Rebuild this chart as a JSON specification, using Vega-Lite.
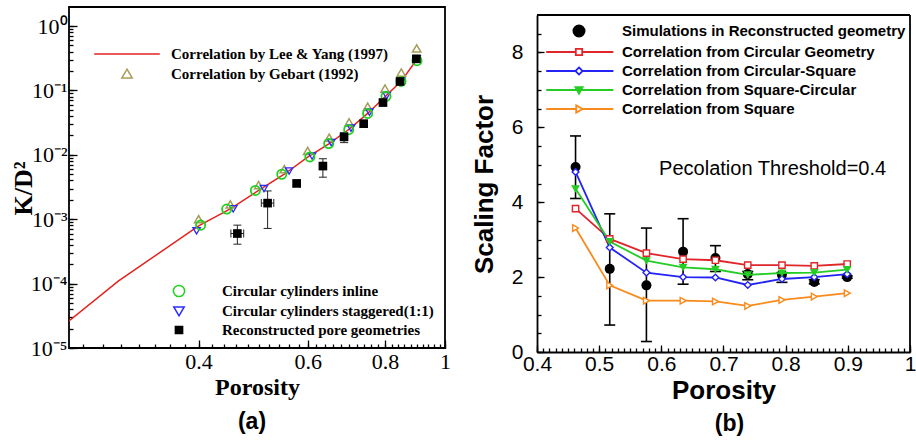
{
  "$schema": "https://vega.github.io/schema/vega-lite/v6.json",
  "background": "white",
  "padding": {"left": 9, "top": 6, "right": 0, "bottom": 0},
  "spacing": 92,
  "bounds": "flush",
  "config": {
    "font": "Liberation Sans",
    "view": {"stroke": "black", "strokeWidth": 1.8},
    "axis": {"grid": false, "domain": false, "tickColor": "black", "labelColor": "black", "titleColor": "black", "labelFlush": false, "labelOverlap": false, "labelBound": false, "tickWidth": 1.3}
  },
  "datasets": {
    "lee": [
      {"p": 0.247, "k": 2.63e-5}, {"p": 0.297, "k": 1.1e-4}, {"p": 0.4, "k": 7.9e-4},
      {"p": 0.45, "k": 1.45e-3}, {"p": 0.5, "k": 2.8e-3}, {"p": 0.55, "k": 5.0e-3},
      {"p": 0.6, "k": 9.2e-3}, {"p": 0.65, "k": 1.5e-2}, {"p": 0.7, "k": 2.5e-2},
      {"p": 0.75, "k": 4.4e-2}, {"p": 0.8, "k": 0.08}, {"p": 0.85, "k": 0.14}, {"p": 0.9, "k": 0.3}
    ],
    "gebart": [
      {"p": 0.4, "k": 1.0e-3}, {"p": 0.45, "k": 1.7e-3}, {"p": 0.5, "k": 3.4e-3},
      {"p": 0.55, "k": 6.0e-3}, {"p": 0.6, "k": 1.15e-2}, {"p": 0.65, "k": 1.85e-2},
      {"p": 0.7, "k": 3.2e-2}, {"p": 0.75, "k": 5.6e-2}, {"p": 0.8, "k": 0.107},
      {"p": 0.85, "k": 0.19}, {"p": 0.9, "k": 0.45}
    ],
    "cyl": [
      {"geo": "Circular cylinders staggered(1:1)", "p": 0.397, "k": 6.6e-4},
      {"geo": "Circular cylinders staggered(1:1)", "p": 0.455, "k": 1.45e-3},
      {"geo": "Circular cylinders staggered(1:1)", "p": 0.51, "k": 3.0e-3},
      {"geo": "Circular cylinders staggered(1:1)", "p": 0.56, "k": 5.6e-3},
      {"geo": "Circular cylinders staggered(1:1)", "p": 0.61, "k": 9.6e-3},
      {"geo": "Circular cylinders staggered(1:1)", "p": 0.655, "k": 1.55e-2},
      {"geo": "Circular cylinders staggered(1:1)", "p": 0.705, "k": 2.6e-2},
      {"geo": "Circular cylinders staggered(1:1)", "p": 0.755, "k": 4.6e-2},
      {"geo": "Circular cylinders staggered(1:1)", "p": 0.805, "k": 0.083},
      {"geo": "Circular cylinders staggered(1:1)", "p": 0.85, "k": 0.14},
      {"geo": "Circular cylinders staggered(1:1)", "p": 0.9, "k": 0.31},
      {"geo": "Circular cylinders inline", "p": 0.403, "k": 8.1e-4},
      {"geo": "Circular cylinders inline", "p": 0.444, "k": 1.44e-3},
      {"geo": "Circular cylinders inline", "p": 0.494, "k": 2.8e-3},
      {"geo": "Circular cylinders inline", "p": 0.545, "k": 5.0e-3},
      {"geo": "Circular cylinders inline", "p": 0.605, "k": 9.3e-3},
      {"geo": "Circular cylinders inline", "p": 0.649, "k": 1.5e-2},
      {"geo": "Circular cylinders inline", "p": 0.699, "k": 2.46e-2},
      {"geo": "Circular cylinders inline", "p": 0.75, "k": 4.4e-2},
      {"geo": "Circular cylinders inline", "p": 0.803, "k": 0.081},
      {"geo": "Circular cylinders inline", "p": 0.849, "k": 0.138},
      {"geo": "Circular cylinders inline", "p": 0.901, "k": 0.29},
      {"geo": "Reconstructed pore geometries", "p": 0.462, "k": 6.0e-4, "klo": 4.1e-4, "khi": 8.1e-4, "plo": 0.451, "phi": 0.473},
      {"geo": "Reconstructed pore geometries", "p": 0.517, "k": 1.78e-3, "klo": 7.2e-4, "khi": 2.75e-3, "plo": 0.505, "phi": 0.529},
      {"geo": "Reconstructed pore geometries", "p": 0.576, "k": 3.6e-3, "klo": 3.3e-3, "khi": 3.95e-3, "plo": 0.569, "phi": 0.583},
      {"geo": "Reconstructed pore geometries", "p": 0.635, "k": 6.7e-3, "klo": 4.5e-3, "khi": 8.7e-3, "plo": 0.63, "phi": 0.64},
      {"geo": "Reconstructed pore geometries", "p": 0.687, "k": 1.9e-2, "klo": 1.55e-2, "khi": 2.2e-2, "plo": 0.681, "phi": 0.693},
      {"geo": "Reconstructed pore geometries", "p": 0.739, "k": 3.05e-2, "klo": 2.7e-2, "khi": 3.4e-2, "plo": 0.733, "phi": 0.745},
      {"geo": "Reconstructed pore geometries", "p": 0.794, "k": 0.065, "klo": 0.058, "khi": 0.072, "plo": 0.789, "phi": 0.799},
      {"geo": "Reconstructed pore geometries", "p": 0.846, "k": 0.138, "klo": 0.128, "khi": 0.15, "plo": 0.841, "phi": 0.851},
      {"geo": "Reconstructed pore geometries", "p": 0.899, "k": 0.31, "klo": 0.29, "khi": 0.33, "plo": 0.894, "phi": 0.904}
    ],
    "scaling": [
      {"s": "Simulations in Reconstructed geometry", "p": 0.462, "v": 4.94, "lo": 4.1, "hi": 5.77},
      {"s": "Simulations in Reconstructed geometry", "p": 0.517, "v": 2.22, "lo": 0.72, "hi": 3.69},
      {"s": "Simulations in Reconstructed geometry", "p": 0.576, "v": 1.78, "lo": 0.28, "hi": 3.31},
      {"s": "Simulations in Reconstructed geometry", "p": 0.635, "v": 2.68, "lo": 1.81, "hi": 3.56},
      {"s": "Simulations in Reconstructed geometry", "p": 0.687, "v": 2.51, "lo": 2.15, "hi": 2.84},
      {"s": "Simulations in Reconstructed geometry", "p": 0.739, "v": 2.08, "lo": 1.93, "hi": 2.15},
      {"s": "Simulations in Reconstructed geometry", "p": 0.794, "v": 2.06, "lo": 1.86, "hi": 2.12},
      {"s": "Simulations in Reconstructed geometry", "p": 0.846, "v": 1.87, "lo": 1.82, "hi": 1.93},
      {"s": "Simulations in Reconstructed geometry", "p": 0.899, "v": 2.0, "lo": 1.97, "hi": 2.03},
      {"s": "Correlation from Circular Geometry", "p": 0.462, "v": 3.83},
      {"s": "Correlation from Circular Geometry", "p": 0.517, "v": 3.02},
      {"s": "Correlation from Circular Geometry", "p": 0.576, "v": 2.64},
      {"s": "Correlation from Circular Geometry", "p": 0.635, "v": 2.48},
      {"s": "Correlation from Circular Geometry", "p": 0.687, "v": 2.45},
      {"s": "Correlation from Circular Geometry", "p": 0.739, "v": 2.32},
      {"s": "Correlation from Circular Geometry", "p": 0.794, "v": 2.32},
      {"s": "Correlation from Circular Geometry", "p": 0.846, "v": 2.3},
      {"s": "Correlation from Circular Geometry", "p": 0.899, "v": 2.35},
      {"s": "Correlation from Circular-Square", "p": 0.462, "v": 4.81},
      {"s": "Correlation from Circular-Square", "p": 0.517, "v": 2.79},
      {"s": "Correlation from Circular-Square", "p": 0.576, "v": 2.12},
      {"s": "Correlation from Circular-Square", "p": 0.635, "v": 2.0},
      {"s": "Correlation from Circular-Square", "p": 0.687, "v": 1.99},
      {"s": "Correlation from Circular-Square", "p": 0.739, "v": 1.79},
      {"s": "Correlation from Circular-Square", "p": 0.794, "v": 1.95},
      {"s": "Correlation from Circular-Square", "p": 0.846, "v": 2.0},
      {"s": "Correlation from Circular-Square", "p": 0.899, "v": 2.08},
      {"s": "Correlation from Square-Circular", "p": 0.462, "v": 4.36},
      {"s": "Correlation from Square-Circular", "p": 0.517, "v": 2.95},
      {"s": "Correlation from Square-Circular", "p": 0.576, "v": 2.44},
      {"s": "Correlation from Square-Circular", "p": 0.635, "v": 2.26},
      {"s": "Correlation from Square-Circular", "p": 0.687, "v": 2.21},
      {"s": "Correlation from Square-Circular", "p": 0.739, "v": 2.06},
      {"s": "Correlation from Square-Circular", "p": 0.794, "v": 2.11},
      {"s": "Correlation from Square-Circular", "p": 0.846, "v": 2.12},
      {"s": "Correlation from Square-Circular", "p": 0.899, "v": 2.2},
      {"s": "Correlation from Square", "p": 0.462, "v": 3.31},
      {"s": "Correlation from Square", "p": 0.517, "v": 1.78},
      {"s": "Correlation from Square", "p": 0.576, "v": 1.37},
      {"s": "Correlation from Square", "p": 0.635, "v": 1.37},
      {"s": "Correlation from Square", "p": 0.687, "v": 1.35},
      {"s": "Correlation from Square", "p": 0.739, "v": 1.23},
      {"s": "Correlation from Square", "p": 0.794, "v": 1.39},
      {"s": "Correlation from Square", "p": 0.846, "v": 1.48},
      {"s": "Correlation from Square", "p": 0.899, "v": 1.57}
    ]
  },
  "hconcat": [
    {
      "width": 376,
      "height": 341,
      "title": {"text": "(a)", "orient": "bottom", "anchor": "middle", "frame": "group", "font": "Liberation Sans", "fontSize": 23, "fontWeight": "bold", "color": "black", "offset": 12, "dx": -5},
      "resolve": {
        "scale": {"shape": "independent", "stroke": "independent", "fill": "independent"},
        "axis": {"x": "independent", "y": "independent"}
      },
      "layer": [
        {
          "data": {"name": "lee"},
          "mark": {"type": "line", "strokeWidth": 1.5, "color": "#e3231e", "clip": true},
          "encoding": {
            "x": {
              "field": "p", "type": "quantitative",
              "scale": {"type": "log", "domain": [0.247, 1], "nice": false},
              "axis": {
                "orient": "bottom",
                "title": "Porosity", "titleFont": "Liberation Serif", "titleFontSize": 24, "titleFontWeight": "bold",
                "titleY": 39, "titleBaseline": "middle",
                "values": [0.26, 0.28, 0.3, 0.32, 0.34, 0.36, 0.38, 0.4, 0.42, 0.44, 0.46, 0.48, 0.5, 0.52, 0.54, 0.56, 0.58, 0.6, 0.62, 0.64, 0.66, 0.68, 0.7, 0.72, 0.74, 0.76, 0.78, 0.8, 0.82, 0.84, 0.86, 0.88, 0.9, 0.92, 0.94, 0.96, 0.98, 1],
                "labelExpr": "datum.value == 1 ? '1' : (datum.value == 0.4 || datum.value == 0.6 || datum.value == 0.8) ? format(datum.value, '.1f') : ''",
                "labelFont": "Liberation Serif", "labelFontSize": 22, "labelPadding": 7, "labelOverlap": false,
                "tickSize": -4
              }
            },
            "y": {
              "field": "k", "type": "quantitative",
              "scale": {"type": "log", "domain": [0.00001, 1.98], "nice": false},
              "axis": {
                "orient": "left",
                "title": "K/D²", "titleFont": "Liberation Serif", "titleFontSize": 26, "titleFontWeight": "bold",
                "titleX": -46, "titleY": 181, "titleBaseline": "middle", "titleAlign": "center",
                "values": [0.00001, 0.00002, 0.00003, 0.00004, 0.00005, 0.00006, 0.00007, 0.00008, 0.00009, 0.0001, 0.0002, 0.0003, 0.0004, 0.0005, 0.0006, 0.0007, 0.0008, 0.0009, 0.001, 0.002, 0.003, 0.004, 0.005, 0.006, 0.007, 0.008, 0.009, 0.01, 0.02, 0.03, 0.04, 0.05, 0.06, 0.07, 0.08, 0.09, 0.1, 0.2, 0.3, 0.4, 0.5, 0.6, 0.7, 0.8, 0.9, 1],
                "labelExpr": "datum.value == 1 ? '10⁰' : datum.value == 0.1 ? '10⁻¹' : datum.value == 0.01 ? '10⁻²' : datum.value == 0.001 ? '10⁻³' : datum.value == 0.0001 ? '10⁻⁴' : datum.value == 0.00001 ? '10⁻⁵' : ''",
                "labelFont": "Liberation Serif", "labelFontSize": 22, "labelPadding": 6, "labelOverlap": false,
                "tickSize": -4
              }
            }
          }
        },
        {
          "data": {"name": "gebart"},
          "mark": {"type": "point", "shape": "triangle-up", "filled": false, "color": "#a69d58", "size": 70, "strokeWidth": 1.5, "opacity": 1},
          "encoding": {
            "x": {"field": "p", "type": "quantitative", "axis": {"orient": "bottom", "title": null, "labels": false, "values": [0.4, 0.6, 0.8, 1], "tickSize": -8}},
            "y": {"field": "k", "type": "quantitative", "axis": {"orient": "left", "title": null, "labels": false, "values": [0.00001, 0.0001, 0.001, 0.01, 0.1, 1], "tickSize": -8}}
          }
        },
        {
          "data": {"name": "cyl"},
          "transform": [{"filter": "datum.geo == 'Reconstructed pore geometries'"}],
          "mark": {"type": "rule", "color": "#222222", "strokeWidth": 1},
          "encoding": {
            "x": {"field": "p", "type": "quantitative", "axis": null},
            "y": {"field": "klo", "type": "quantitative", "axis": null},
            "y2": {"field": "khi"}
          }
        },
        {
          "data": {"name": "cyl"},
          "transform": [{"filter": "datum.geo == 'Reconstructed pore geometries'"}],
          "mark": {"type": "tick", "orient": "horizontal", "size": 8, "thickness": 1, "color": "#222222", "opacity": 1},
          "encoding": {
            "x": {"field": "p", "type": "quantitative", "axis": null},
            "y": {"field": "klo", "type": "quantitative", "axis": null}
          }
        },
        {
          "data": {"name": "cyl"},
          "transform": [{"filter": "datum.geo == 'Reconstructed pore geometries'"}],
          "mark": {"type": "tick", "orient": "horizontal", "size": 8, "thickness": 1, "color": "#222222", "opacity": 1},
          "encoding": {
            "x": {"field": "p", "type": "quantitative", "axis": null},
            "y": {"field": "khi", "type": "quantitative", "axis": null}
          }
        },
        {
          "data": {"name": "cyl"},
          "transform": [{"filter": "datum.geo == 'Reconstructed pore geometries'"}],
          "mark": {"type": "rule", "color": "#222222", "strokeWidth": 1},
          "encoding": {
            "x": {"field": "plo", "type": "quantitative", "axis": null},
            "x2": {"field": "phi"},
            "y": {"field": "k", "type": "quantitative", "axis": null}
          }
        },
        {
          "data": {"name": "cyl"},
          "transform": [{"filter": "datum.geo == 'Reconstructed pore geometries'"}],
          "mark": {"type": "tick", "orient": "vertical", "size": 8, "thickness": 1, "color": "#222222", "opacity": 1},
          "encoding": {
            "x": {"field": "plo", "type": "quantitative", "axis": null},
            "y": {"field": "k", "type": "quantitative", "axis": null}
          }
        },
        {
          "data": {"name": "cyl"},
          "transform": [{"filter": "datum.geo == 'Reconstructed pore geometries'"}],
          "mark": {"type": "tick", "orient": "vertical", "size": 8, "thickness": 1, "color": "#222222", "opacity": 1},
          "encoding": {
            "x": {"field": "phi", "type": "quantitative", "axis": null},
            "y": {"field": "k", "type": "quantitative", "axis": null}
          }
        },
        {
          "data": {"name": "cyl"},
          "transform": [{"filter": "datum.geo == 'Circular cylinders staggered(1:1)'"}],
          "mark": {"type": "point", "shape": "triangle-down", "filled": false, "color": "#2b2bff", "size": 55, "strokeWidth": 1.3, "opacity": 1},
          "encoding": {
            "x": {"field": "p", "type": "quantitative", "axis": null},
            "y": {"field": "k", "type": "quantitative", "axis": null}
          }
        },
        {
          "data": {"name": "cyl"},
          "transform": [{"filter": "datum.geo == 'Circular cylinders inline'"}],
          "mark": {"type": "point", "shape": "circle", "filled": false, "color": "#1fd01f", "size": 85, "strokeWidth": 1.8, "opacity": 1},
          "encoding": {
            "x": {"field": "p", "type": "quantitative", "axis": null},
            "y": {"field": "k", "type": "quantitative", "axis": null}
          }
        },
        {
          "data": {"name": "cyl"},
          "transform": [{"filter": "datum.geo == 'Reconstructed pore geometries'"}],
          "mark": {"type": "point", "shape": "square", "filled": true, "color": "black", "size": 75, "opacity": 1},
          "encoding": {
            "x": {"field": "p", "type": "quantitative", "axis": null},
            "y": {"field": "k", "type": "quantitative", "axis": null}
          }
        },
        {
          "data": {"name": "gebart"},
          "transform": [{"filter": "false"}],
          "mark": {"type": "point", "filled": false, "strokeWidth": 1.5, "opacity": 1},
          "encoding": {
            "x": {"field": "p", "type": "quantitative", "axis": null},
            "y": {"field": "k", "type": "quantitative", "axis": null},
            "shape": {
              "field": "corr", "type": "nominal",
              "scale": {"domain": ["Correlation by Lee & Yang (1997)", "Correlation by Gebart (1992)"], "range": ["M-4.1,0H4.1", "M0,-0.6L0.65,0.5L-0.65,0.5Z"]},
              "legend": {
                "orient": "none", "legendX": 49, "legendY": 38, "title": null, "padding": 0,
                "symbolSize": 256, "symbolStrokeWidth": 1.5, "symbolOpacity": 1, "rowPadding": 3, "labelOffset": 35, "labelLimit": 0,
                "labelFont": "Liberation Serif", "labelFontSize": 15, "labelFontWeight": "bold", "labelColor": "black"
              }
            },
            "stroke": {
              "field": "corr", "type": "nominal",
              "scale": {"domain": ["Correlation by Lee & Yang (1997)", "Correlation by Gebart (1992)"], "range": ["#e3231e", "#a69d58"]}
            }
          }
        },
        {
          "data": {"name": "cyl"},
          "transform": [{"filter": "false"}],
          "mark": {"type": "point", "filled": false, "strokeWidth": 1.5, "opacity": 1},
          "encoding": {
            "x": {"field": "p", "type": "quantitative", "axis": null},
            "y": {"field": "k", "type": "quantitative", "axis": null},
            "shape": {
              "field": "geo", "type": "nominal",
              "scale": {"domain": ["Circular cylinders inline", "Circular cylinders staggered(1:1)", "Reconstructed pore geometries"], "range": ["M0.7,0A0.7,0.7,0,1,1,-0.7,0A0.7,0.7,0,1,1,0.7,0Z", "M-0.65,-0.5L0.65,-0.5L0,0.6Z", "M-0.45,-0.45H0.45V0.45H-0.45Z"]},
              "legend": {
                "orient": "none", "legendX": 101, "legendY": 275, "title": null, "padding": 0,
                "symbolSize": 256, "symbolStrokeWidth": 1.5, "symbolOpacity": 1, "rowPadding": 2, "labelOffset": 34, "labelLimit": 0,
                "labelFont": "Liberation Serif", "labelFontSize": 15, "labelFontWeight": "bold", "labelColor": "black"
              }
            },
            "stroke": {
              "field": "geo", "type": "nominal",
              "scale": {"domain": ["Circular cylinders inline", "Circular cylinders staggered(1:1)", "Reconstructed pore geometries"], "range": ["#1fd01f", "#2b2bff", "black"]}
            },
            "fill": {
              "field": "geo", "type": "nominal",
              "scale": {"domain": ["Circular cylinders inline", "Circular cylinders staggered(1:1)", "Reconstructed pore geometries"], "range": ["transparent", "transparent", "black"]}
            }
          }
        }
      ]
    },
    {
      "width": 373,
      "height": 345,
      "view": {"stroke": null},
      "title": {"text": "(b)", "orient": "bottom", "anchor": "middle", "frame": "group", "font": "Liberation Sans", "fontSize": 23, "fontWeight": "bold", "color": "black", "offset": 10, "dx": 6},
      "resolve": {
        "scale": {"shape": "independent", "stroke": "independent", "fill": "independent"},
        "axis": {"x": "independent", "y": "independent"}
      },
      "layer": [
        {
          "data": {"name": "scaling"},
          "transform": [{"filter": "datum.s == 'Simulations in Reconstructed geometry'"}],
          "mark": {"type": "rule", "color": "black", "strokeWidth": 1.6},
          "encoding": {
            "x": {
              "field": "p", "type": "quantitative",
              "scale": {"domain": [0.4, 1], "nice": false, "zero": false},
              "axis": {
                "orient": "bottom",
                "title": "Porosity", "titleFont": "Liberation Sans", "titleFontSize": 26, "titleFontWeight": "bold",
                "titleY": 38, "titleBaseline": "middle",
                "domain": true, "domainColor": "black", "domainWidth": 1.8,
                "values": [0.4, 0.41, 0.42, 0.43, 0.44, 0.45, 0.46, 0.47, 0.48, 0.49, 0.5, 0.51, 0.52, 0.53, 0.54, 0.55, 0.56, 0.57, 0.58, 0.59, 0.6, 0.61, 0.62, 0.63, 0.64, 0.65, 0.66, 0.67, 0.68, 0.69, 0.7, 0.71, 0.72, 0.73, 0.74, 0.75, 0.76, 0.77, 0.78, 0.79, 0.8, 0.81, 0.82, 0.83, 0.84, 0.85, 0.86, 0.87, 0.88, 0.89, 0.9, 0.91, 0.92, 0.93, 0.94, 0.95, 0.96, 0.97, 0.98, 0.99, 0.9999999],
                "labelExpr": "datum.value > 0.995 ? '1' : abs(datum.value * 10 - round(datum.value * 10)) < 0.001 ? format(datum.value, '.1f') : ''",
                "labelFont": "Liberation Sans", "labelFontSize": 21, "labelPadding": 5, "labelOverlap": false,
                "tickSize": -4
              }
            },
            "y": {
              "field": "lo", "type": "quantitative",
              "scale": {"domain": [0, 9], "range": [345, 8], "nice": false, "zero": false},
              "axis": {
                "orient": "left",
                "title": "Scaling Factor", "titleFont": "Liberation Sans", "titleFontSize": 26, "titleFontWeight": "bold",
                "titleX": -53, "titleY": 177, "titleBaseline": "middle", "titleAlign": "center",
                "domain": true, "domainColor": "black", "domainWidth": 1.8,
                "values": [0, 0.5, 1, 1.5, 2, 2.5, 3, 3.5, 4, 4.5, 5, 5.5, 6, 6.5, 7, 7.5, 8, 8.5],
                "labelExpr": "datum.value % 2 == 0 ? format(datum.value, 'd') : ''",
                "labelFont": "Liberation Sans", "labelFontSize": 21, "labelPadding": 18, "labelOverlap": false,
                "tickSize": -4
              }
            },
            "y2": {"field": "hi"}
          }
        },
        {
          "data": {"name": "scaling"},
          "transform": [{"filter": "datum.s == 'Simulations in Reconstructed geometry'"}],
          "mark": {"type": "tick", "orient": "horizontal", "size": 11, "thickness": 1.6, "color": "black", "opacity": 1},
          "encoding": {
            "x": {"field": "p", "type": "quantitative", "axis": {"orient": "bottom", "title": null, "labels": false, "values": [0.4, 0.5, 0.6, 0.7, 0.8, 0.9, 0.9999999], "tickSize": -7}},
            "y": {"field": "lo", "type": "quantitative", "axis": {"orient": "left", "title": null, "labels": false, "values": [0, 2, 4, 6, 8], "tickSize": -7}}
          }
        },
        {
          "data": {"name": "scaling"},
          "transform": [{"filter": "datum.s == 'Simulations in Reconstructed geometry'"}],
          "mark": {"type": "tick", "orient": "horizontal", "size": 11, "thickness": 1.6, "color": "black", "opacity": 1},
          "encoding": {
            "x": {"field": "p", "type": "quantitative", "axis": null},
            "y": {"field": "hi", "type": "quantitative", "axis": null}
          }
        },
        {
          "data": {"name": "scaling"},
          "transform": [{"filter": "datum.s == 'Simulations in Reconstructed geometry'"}],
          "mark": {"type": "point", "shape": "circle", "filled": true, "color": "black", "size": 100, "opacity": 1},
          "encoding": {
            "x": {"field": "p", "type": "quantitative", "axis": null},
            "y": {"field": "v", "type": "quantitative", "axis": null}
          }
        },
        {
          "data": {"name": "scaling"},
          "transform": [{"filter": "datum.s != 'Simulations in Reconstructed geometry'"}],
          "mark": {"type": "line", "strokeWidth": 1.8},
          "encoding": {
            "x": {"field": "p", "type": "quantitative", "axis": null},
            "y": {"field": "v", "type": "quantitative", "axis": null},
            "color": {
              "field": "s", "type": "nominal", "legend": null,
              "scale": {"domain": ["Correlation from Circular Geometry", "Correlation from Circular-Square", "Correlation from Square-Circular", "Correlation from Square"], "range": ["#e0262b", "#2323f5", "#25cc25", "#fb8a1c"]}
            }
          }
        },
        {
          "data": {"name": "scaling"},
          "transform": [{"filter": "datum.s == 'Correlation from Circular Geometry'"}],
          "mark": {"type": "point", "shape": "square", "filled": true, "fill": "white", "stroke": "#e0262b", "size": 40, "strokeWidth": 1.4, "opacity": 1},
          "encoding": {
            "x": {"field": "p", "type": "quantitative", "axis": null},
            "y": {"field": "v", "type": "quantitative", "axis": null}
          }
        },
        {
          "data": {"name": "scaling"},
          "transform": [{"filter": "datum.s == 'Correlation from Circular-Square'"}],
          "mark": {"type": "point", "shape": "diamond", "filled": true, "fill": "white", "stroke": "#2323f5", "size": 45, "strokeWidth": 1.4, "opacity": 1},
          "encoding": {
            "x": {"field": "p", "type": "quantitative", "axis": null},
            "y": {"field": "v", "type": "quantitative", "axis": null}
          }
        },
        {
          "data": {"name": "scaling"},
          "transform": [{"filter": "datum.s == 'Correlation from Square-Circular'"}],
          "mark": {"type": "point", "shape": "triangle-down", "filled": true, "fill": "#25cc25", "stroke": "#25cc25", "size": 45, "strokeWidth": 1.2, "opacity": 1},
          "encoding": {
            "x": {"field": "p", "type": "quantitative", "axis": null},
            "y": {"field": "v", "type": "quantitative", "axis": null}
          }
        },
        {
          "data": {"name": "scaling"},
          "transform": [{"filter": "datum.s == 'Correlation from Square'"}],
          "mark": {"type": "point", "shape": "triangle-right", "filled": true, "fill": "white", "stroke": "#fb8a1c", "size": 45, "strokeWidth": 1.4, "opacity": 1},
          "encoding": {
            "x": {"field": "p", "type": "quantitative", "axis": null},
            "y": {"field": "v", "type": "quantitative", "axis": null}
          }
        },
        {
          "data": {"values": [{"note": "Pecolation Threshold=0.4"}]},
          "mark": {"type": "text", "font": "Liberation Sans", "fontSize": 20, "align": "center", "baseline": "middle", "color": "black"},
          "encoding": {
            "x": {"datum": 0.779, "type": "quantitative", "axis": null},
            "y": {"datum": 4.89, "type": "quantitative", "axis": null},
            "text": {"field": "note"}
          }
        },
        {
          "data": {"values": [{"edge": "top"}]},
          "mark": {"type": "rule", "color": "black", "strokeWidth": 1.8},
          "encoding": {
            "x": {"datum": 0.4, "type": "quantitative", "axis": null},
            "x2": {"datum": 1},
            "y": {"datum": 9, "type": "quantitative", "axis": null}
          }
        },
        {
          "data": {"values": [{"edge": "right"}]},
          "mark": {"type": "rule", "color": "black", "strokeWidth": 1.8},
          "encoding": {
            "x": {"datum": 1, "type": "quantitative", "axis": null},
            "y": {"datum": 0, "type": "quantitative", "axis": null},
            "y2": {"datum": 9}
          }
        },
        {
          "data": {"name": "scaling"},
          "transform": [{"filter": "false"}],
          "mark": {"type": "point", "filled": true, "strokeWidth": 1.8, "opacity": 1},
          "encoding": {
            "x": {"field": "p", "type": "quantitative", "axis": null},
            "y": {"field": "v", "type": "quantitative", "axis": null},
            "shape": {
              "field": "s", "type": "nominal",
              "scale": {
                "domain": ["Simulations in Reconstructed geometry", "Correlation from Circular Geometry", "Correlation from Circular-Square", "Correlation from Square-Circular", "Correlation from Square"],
                "range": ["M0.7,0A0.7,0.7,0,1,1,-0.7,0A0.7,0.7,0,1,1,0.7,0Z", "M-4.1,0H-0.4M0.4,0H4.3M-0.4,-0.4H0.4V0.4H-0.4Z", "M-4.1,0H-0.45M0.45,0H4.3M0,-0.45L0.45,0L0,0.45L-0.45,0Z", "M-4.1,0H4.3M-0.45,-0.35H0.45L0,0.45Z", "M-4.1,0H-0.35M0.45,0H4.3M-0.35,-0.45L0.45,0L-0.35,0.45Z"]
              },
              "legend": {
                "orient": "none", "legendX": 33, "legendY": 15, "title": null, "padding": 0,
                "symbolSize": 256, "symbolStrokeWidth": 1.8, "symbolOpacity": 1, "rowPadding": 2, "labelOffset": 34, "labelLimit": 0,
                "labelFont": "Liberation Sans", "labelFontSize": 15, "labelFontWeight": "bold", "labelColor": "black"
              }
            },
            "stroke": {
              "field": "s", "type": "nominal",
              "scale": {
                "domain": ["Simulations in Reconstructed geometry", "Correlation from Circular Geometry", "Correlation from Circular-Square", "Correlation from Square-Circular", "Correlation from Square"],
                "range": ["black", "#e0262b", "#2323f5", "#25cc25", "#fb8a1c"]
              }
            },
            "fill": {
              "field": "s", "type": "nominal",
              "scale": {
                "domain": ["Simulations in Reconstructed geometry", "Correlation from Circular Geometry", "Correlation from Circular-Square", "Correlation from Square-Circular", "Correlation from Square"],
                "range": ["black", "white", "white", "#25cc25", "white"]
              }
            }
          }
        }
      ]
    }
  ]
}
